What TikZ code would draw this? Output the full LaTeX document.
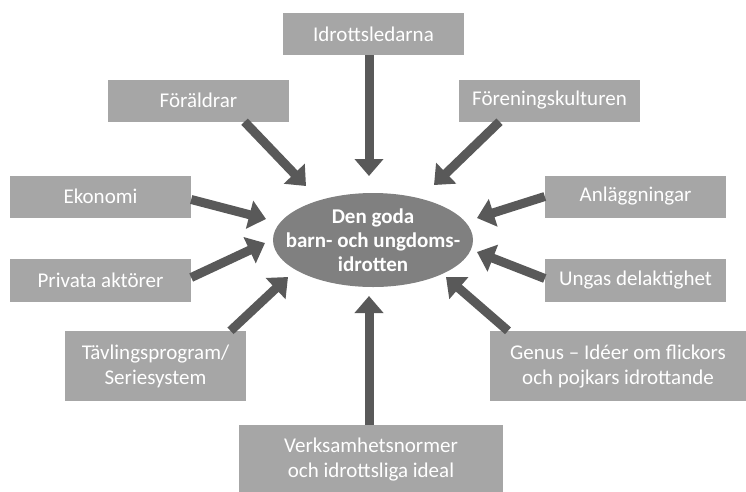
\documentclass[tikz,border=0pt]{standalone}
\usepackage{fontspec}
\setmainfont{Carlito}
\usetikzlibrary{arrows.meta,shapes.geometric}
\definecolor{boxgray}{HTML}{A6A6A6}
\definecolor{arrgray}{HTML}{595959}
\definecolor{ellgray}{HTML}{808080}
\begin{document}
\begin{tikzpicture}[x=1pt,y=-1pt,
  box/.style={rectangle, fill=boxgray, text=white, inner sep=0pt, align=center,
    font=\fontsize{21}{25}\selectfont},
  arr/.style={draw=arrgray, line width=9pt, -{Triangle[width=28pt,length=17pt]}, arrgray}]
\useasboundingbox (0,0) rectangle (746,491);
\node[ellipse, fill=ellgray, minimum width=200pt, minimum height=94pt, inner sep=0pt] (ell) at (373,240) {};
\node[text=white, align=center, inner sep=0pt, font=\bfseries\fontsize{21}{24}\selectfont] (elltext) at (ell.center)
  {Den goda\\barn- och ungdoms-\\idrotten};
\node[box, minimum width=181pt, minimum height=42pt] (idr) at (373.5,34) {Idrottsledarna};
\node[box, minimum width=181pt, minimum height=42pt] (for) at (198.5,100.5) {Föräldrar};
\node[box, minimum width=181pt, minimum height=42pt] (fore) at (549.5,100.5) {Föreningskulturen};
\node[box, minimum width=181pt, minimum height=42pt] (eko) at (100.5,196.5) {Ekonomi};
\node[box, minimum width=181pt, minimum height=42pt] (anl) at (635.5,196.5) {Anläggningar};
\node[box, minimum width=181pt, minimum height=43pt] (priv) at (100.5,280.5) {Privata aktörer};
\node[box, minimum width=181pt, minimum height=43pt] (ung) at (635.5,280.5) {Ungas delaktighet};
\node[box, minimum width=181pt, minimum height=70pt] (tav) at (155.5,366) {Tävlingsprogram/\\Seriesystem};
\node[box, minimum width=256pt, minimum height=70pt] (gen) at (618,366) {Genus – Idéer om flickors\\och pojkars idrottande};
\node[box, minimum width=264pt, minimum height=70pt] (ver) at (371,460) {Verksamhetsnormer\\och idrottsliga ideal};
% arrow end points
\coordinate (tidr) at (369,176);
\coordinate (tfor) at (306,186);
\coordinate (teko) at (266,219);
\coordinate (tfore) at (434,185);
\coordinate (tanl) at (477,218);
\coordinate (tung) at (477,252);
\coordinate (tgen) at (446,277);
\coordinate (tpriv) at (265,243);
\coordinate (ttav) at (288,277);
\coordinate (tver) at (369,296);
\draw[arr] (idr.south -| tidr) -- (tidr);
\draw[arr] ([xshift=46pt]for.south) -- (tfor);
\draw[arr] ([yshift=-3pt]eko.east) -- (teko);
\draw[arr] ([xshift=-50pt]fore.south) -- (tfore);
\draw[arr] (anl.west) -- (tanl);
\draw[arr] ([yshift=2pt]ung.west) -- (tung);
\draw[arr] ([xshift=-110pt]gen.north) -- (tgen);
\draw[arr] ([yshift=3pt]priv.east) -- (tpriv);
\draw[arr] ([xshift=75pt]tav.north) -- (ttav);
\draw[arr] (ver.north -| tver) -- (tver);
\end{tikzpicture}
\end{document}
